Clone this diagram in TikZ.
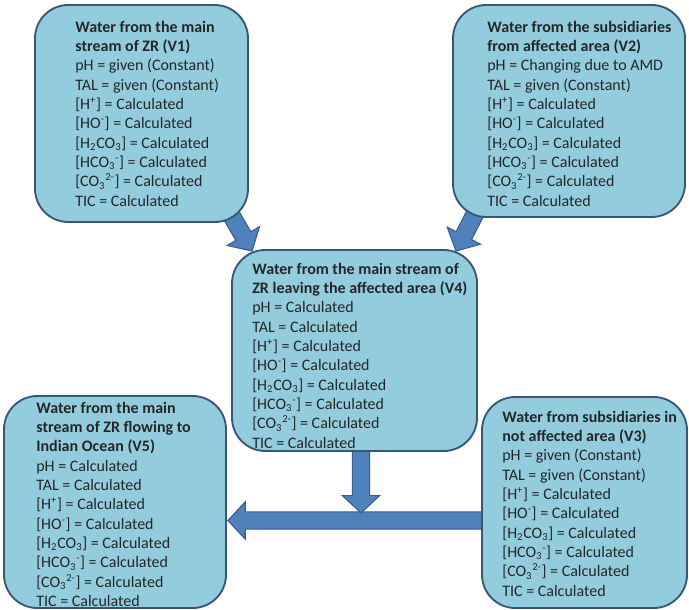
\documentclass[tikz,border=0pt]{standalone}
\usepackage{fontspec}
\setmainfont{Carlito}
\usetikzlibrary{calc,backgrounds}

\definecolor{boxfill}{RGB}{147,205,221}
\definecolor{boxline}{RGB}{56,87,118}
\definecolor{arrowfill}{RGB}{79,129,189}
\definecolor{arrowline}{RGB}{56,93,138}

% fat arrow from #1 to #2
\newcommand{\blockarrow}[2]{%
  \path ($(#2)!13pt!(#1)$) coordinate (head);
  \filldraw[bigarrow] ($(#1)!6.5pt!90:(#2)$) -- ($(head)!6.5pt!90:(#2)$)
    -- ($(head)!14pt!90:(#2)$) -- (#2) -- ($(head)!14pt!-90:(#2)$)
    -- ($(head)!6.5pt!-90:(#2)$) -- ($(#1)!6.5pt!-90:(#2)$) -- cycle;}

\begin{document}
\begin{tikzpicture}[%
    x=0.75pt,
    y=-0.75pt,
    box/.style={draw=boxline, fill=boxfill, line width=1.4pt, rounded corners=25pt, inner sep=0pt},
    txt/.style={anchor=north west, align=left, inner sep=0pt, text=black!85,
      font=\fontsize{12}{14.5}\selectfont},
    bigarrow/.style={fill=arrowfill, draw=arrowline, line width=0.8pt, line join=miter}]
    \useasboundingbox (0,0) rectangle (689,610);

    \node[box, minimum width=159.75pt, minimum height=162.75pt] (v_1) at (141.5,113.5) {};
    \node[box, minimum width=174pt, minimum height=159pt] (v_2) at (569,111) {};
    \node[box, minimum width=183.75pt, minimum height=150.75pt] (v_4) at (354.5,350.5) {};
    \node[box, minimum width=166.5pt, minimum height=159pt] (v_5) at (115,502) {};
    \node[box, minimum width=153.75pt, minimum height=158.25pt] (v_3) at (584.5,502.5) {};

    \node[txt] (t_1) at ([shift={(41,16.5)}]v_1.north west) {%
      \textbf{Water from the main}\\ \textbf{stream of ZR (V1)}\\
      pH = given (Constant)\\ TAL = given (Constant)\\
      {[}H\textsuperscript{+}] = Calculated\\ {[}HO\textsuperscript{-}] = Calculated\\
      {[}H\textsubscript{2}CO\textsubscript{3}] = Calculated\\
      {[}HCO\textsubscript{3}\textsuperscript{-}] = Calculated\\
      {[}CO\textsubscript{3}\textsuperscript{2-}] = Calculated\\ TIC = Calculated};
    \node[txt] (t_2) at ([shift={(35,16.5)}]v_2.north west) {%
      \textbf{Water from the subsidiaries}\\ \textbf{from affected area (V2)}\\
      pH = Changing due to AMD\\ TAL = given (Constant)\\
      {[}H\textsuperscript{+}] = Calculated\\ {[}HO\textsuperscript{-}] = Calculated\\
      {[}H\textsubscript{2}CO\textsubscript{3}] = Calculated\\
      {[}HCO\textsubscript{3}\textsuperscript{-}] = Calculated\\
      {[}CO\textsubscript{3}\textsuperscript{2-}] = Calculated\\ TIC = Calculated};
    \node[txt] (t_4) at ([shift={(21,13.5)}]v_4.north west) {%
      \textbf{Water from the main stream of}\\ \textbf{ZR leaving the affected area (V4)}\\
      pH = Calculated\\ TAL = Calculated\\
      {[}H\textsuperscript{+}] = Calculated\\ {[}HO\textsuperscript{-}] = Calculated\\
      {[}H\textsubscript{2}CO\textsubscript{3}] = Calculated\\
      {[}HCO\textsubscript{3}\textsuperscript{-}] = Calculated\\
      {[}CO\textsubscript{3}\textsuperscript{2-}] = Calculated\\ TIC = Calculated};
    \node[txt] (t_5) at ([shift={(33,6.5)}]v_5.north west) {%
      \textbf{Water from the main}\\ \textbf{stream of ZR flowing to}\\ \textbf{Indian Ocean (V5)}\\
      pH = Calculated\\ TAL = Calculated\\
      {[}H\textsuperscript{+}] = Calculated\\ {[}HO\textsuperscript{-}] = Calculated\\
      {[}H\textsubscript{2}CO\textsubscript{3}] = Calculated\\
      {[}HCO\textsubscript{3}\textsuperscript{-}] = Calculated\\
      {[}CO\textsubscript{3}\textsuperscript{2-}] = Calculated\\ TIC = Calculated};
    \node[txt] (t_3) at ([shift={(21,14.5)}]v_3.north west) {%
      \textbf{Water from subsidiaries in}\\ \textbf{not affected area (V3)}\\
      pH = given (Constant)\\ TAL = given (Constant)\\
      {[}H\textsuperscript{+}] = Calculated\\ {[}HO\textsuperscript{-}] = Calculated\\
      {[}H\textsubscript{2}CO\textsubscript{3}] = Calculated\\
      {[}HCO\textsubscript{3}\textsuperscript{-}] = Calculated\\
      {[}CO\textsubscript{3}\textsuperscript{2-}] = Calculated\\ TIC = Calculated};

    % arrow ends
    \coordinate (a_1) at ([shift={(-26,-22)}]v_1.south east);
    \coordinate (b_1) at ([shift={(21,2)}]v_4.north west);
    \coordinate (a_2) at ([shift={(27,-12)}]v_2.south west);
    \coordinate (b_2) at ([shift={(-22,2)}]v_4.north east);
    \coordinate (a_4) at ([shift={(6.5,-8)}]v_4.south);
    \coordinate (b_4) at ([shift={(6.5,61)}]v_4.south);
    \coordinate (a_3) at ([shift={(6,18)}]v_3.west);
    \coordinate (b_3) at ([shift={(1,18.5)}]v_5.east);

    \begin{scope}[on background layer]
      \blockarrow{a_1}{b_1}
      \blockarrow{a_2}{b_2}
      \blockarrow{a_3}{b_3}
      \blockarrow{a_4}{b_4}
    \end{scope}
\end{tikzpicture}
\end{document}
